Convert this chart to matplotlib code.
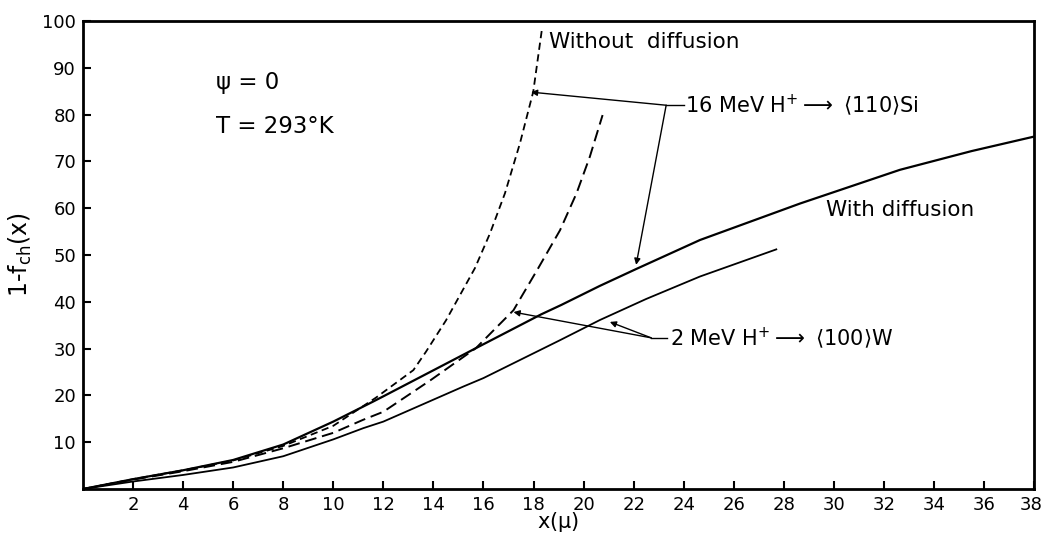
import matplotlib
matplotlib.use("Agg")
import matplotlib.pyplot as plt
from matplotlib.transforms import offset_copy

# Datos
# 16 MeV H+ -> <110> Si, sin difusion (discontinua)
si_nodiff_x = [0, 2, 4, 6, 8, 10, 11.7, 13.2, 13.7, 14.5, 15.66, 16.26, 16.86, 17.46, 17.99, 18.33]
si_nodiff_y = [0, 2.1, 4.0, 6.1, 9.2, 13.5, 19.5, 25.4, 29.3, 36.0, 47.2, 54.6, 63.2, 73.9, 84.9, 98.0]

# 2 MeV H+ -> <100> W, sin difusion (discontinua)
w_nodiff_x = [0, 2, 4, 6, 8, 10, 11.2, 12.0, 13.9, 15.7, 17.2, 18.19, 19.06, 19.72, 20.25, 20.76]
w_nodiff_y = [0, 2.0, 3.8, 5.8, 8.7, 12.0, 14.8, 16.5, 23.3, 30.1, 38.2, 47.2, 55.3, 63.2, 71.0, 79.9]

# 16 MeV H+ -> <110> Si, con difusion
si_diff_x = [0, 2, 4, 6, 8, 10, 11.6, 12, 15.7, 18.3, 19.1, 20.65, 22.1, 24.65, 28.65, 32.64, 35.5, 38]
si_diff_y = [0, 2.1, 4.0, 6.2, 9.5, 14.4, 18.7, 19.8, 30.1, 37.3, 39.3, 43.4, 47.0, 53.2, 61.0, 68.2, 72.2, 75.3]

# 2 MeV H+ -> <100> W, con difusion
w_diff_x = [0, 2, 4, 6, 8, 10, 11.2, 12, 15.2, 16, 19.06, 20.65, 22.5, 24.65, 27.7]
w_diff_y = [0, 1.6, 3.0, 4.6, 7.0, 10.6, 13.0, 14.4, 21.9, 23.7, 31.8, 36.1, 40.6, 45.4, 51.2]

xticks = list(range(2, 39, 2))
yticks = list(range(10, 101, 10))

fs = 15
fig = plt.figure(figsize=(10.44, 5.37), dpi=100)
ax = fig.add_axes([0.0795, 0.0894, 0.911, 0.8715])

ax.plot(si_nodiff_x, si_nodiff_y, color="black", lw=1.3, ls=(0, (4, 2.5)))
ax.plot(w_nodiff_x, w_nodiff_y, color="black", lw=1.4, ls=(0, (6, 3)))
ax.plot(si_diff_x, si_diff_y, color="black", lw=1.6)
ax.plot(w_diff_x, w_diff_y, color="black", lw=1.3)

ax.set_xlim(0, 38)
ax.set_ylim(0, 100)
ax.set_xticks(xticks)
ax.set_yticks(yticks)
ax.tick_params(direction="in", length=6, width=1.5, labelsize=13, pad=5)
for sp in ax.spines.values():
    sp.set_linewidth(2)

# el ultimo numero (38) se sale del borde: correrlo un poco
fig.canvas.draw()
last = ax.get_xticklabels()[-1]
last.set_transform(offset_copy(last.get_transform(), fig=fig, x=-3, units="dots"))

ax.set_xlabel(r"x($\mathrm{\mu}$)", fontsize=15, labelpad=-3)
ax.set_ylabel(r"1-f$_{\mathrm{ch}}$(x)", fontsize=17, labelpad=6)

# Textos
ax.text(5.3, 86.8, "\u03c8 = 0", fontsize=16.5, va="center")
ax.text(5.3, 77.4, "T = 293°K", fontsize=16.5, va="center")
ax.text(18.6, 95.5, "Without  diffusion", fontsize=fs + 0.5, va="center")
ax.text(29.7, 59.6, "With diffusion", fontsize=fs + 0.5, va="center")
ax.text(24.05, 82.0, r"16 MeV H$^{+}$$\longrightarrow$ $\langle$110$\rangle$Si", fontsize=fs, va="center")
ax.text(23.45, 32.3, r"2 MeV H$^{+}$$\longrightarrow$ $\langle$100$\rangle$W", fontsize=fs, va="center")

# Flechas
arr = dict(arrowstyle="-|>", color="black", lw=1.0, mutation_scale=9, shrinkA=0, shrinkB=0)
ax.plot([23.3, 24.0], [82.0, 82.0], color="black", lw=1.0)
ax.annotate("", xy=(17.9, 84.8), xytext=(23.3, 82.0), arrowprops=arr)
ax.annotate("", xy=(22.1, 47.9), xytext=(23.3, 82.0), arrowprops=arr)
ax.plot([22.7, 23.35], [32.3, 32.3], color="black", lw=1.0)
ax.annotate("", xy=(17.2, 37.8), xytext=(22.7, 32.3), arrowprops=arr)
ax.annotate("", xy=(21.05, 35.7), xytext=(22.7, 32.3), arrowprops=arr)

plt.savefig("out.png", dpi=100)
